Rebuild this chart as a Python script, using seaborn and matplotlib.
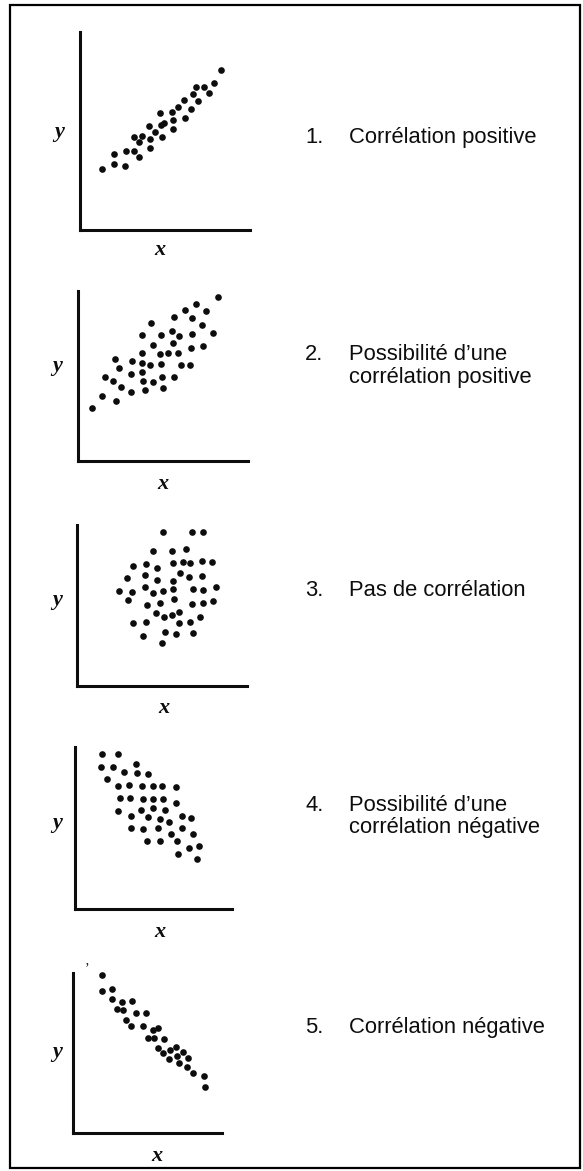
import matplotlib
matplotlib.use("Agg")
import matplotlib.pyplot as plt
from matplotlib.patches import Rectangle
import seaborn as sns
import pandas as pd

# --- point clouds for the five schematic scatter plots (arbitrary units) ---
p1_x = [22, 34, 34, 45, 46, 54, 54, 59, 59, 62, 69, 70, 70, 75, 80, 82,
        81, 84, 92, 93, 93, 98, 104, 105, 111, 113, 116, 118, 124, 129, 134, 141]
p1_y = [61, 76, 66, 64, 79, 79, 93, 73, 88, 94, 104, 91, 82, 98, 117, 93,
        105, 107, 118, 110, 101, 123, 130, 112, 121, 136, 143, 129, 143, 137, 147, 160]

p2_x = [14, 24, 27, 35, 37, 38, 41, 43, 53, 53, 54, 64, 64, 64, 64, 65, 67,
        72, 73, 75, 75, 82, 83, 83, 84, 85, 90, 94, 96, 95, 96, 100, 101, 103,
        107, 112, 113, 114, 114, 118, 124, 125, 128, 135, 140]
p2_y = [53, 65, 84, 80, 102, 60, 93, 74, 69, 87, 100, 126, 108, 98, 89, 80, 71,
        96, 138, 116, 79, 107, 126, 97, 84, 73, 108, 130, 144, 118, 84, 108, 125, 96,
        151, 96, 113, 143, 127, 157, 136, 115, 150, 128, 164]

p3_x = [86, 115, 126, 76, 95, 109, 56, 69, 80, 96, 106, 113, 125, 135, 50, 68,
        80, 96, 103, 112, 125, 42, 55, 68, 76, 86, 96, 116, 126, 139, 51, 70, 83,
        97, 115, 126, 136, 79, 87, 95, 102, 123, 56, 69, 102, 113, 66, 88, 99, 116, 85]
p3_y = [154, 154, 154, 135, 135, 137, 120, 122, 118, 123, 124, 123, 125, 124, 108, 111,
        106, 105, 113, 109, 110, 95, 94, 99, 93, 95, 97, 97, 96, 99, 86, 81, 83,
        87, 82, 83, 85, 73, 69, 71, 74, 69, 63, 64, 63, 64, 50, 54, 52, 53, 43]

p4_x = [27, 43, 26, 38, 61, 32, 49, 62, 73, 43, 54, 67, 78, 87, 101, 45, 55, 68,
        78, 88, 101, 43, 66, 78, 90, 56, 73, 85, 94, 107, 116, 56, 68, 83, 107,
        72, 85, 96, 102, 118, 114, 124, 103, 122]
p4_y = [155, 155, 142, 142, 145, 130, 137, 136, 135, 123, 124, 123, 123, 123, 122, 111, 111, 110,
        110, 110, 106, 98, 99, 101, 99, 93, 92, 90, 87, 93, 91, 81, 80, 81, 81,
        68, 68, 75, 68, 75, 61, 63, 55, 50]

p5_x = [29, 29, 39, 39, 49, 59, 44, 50, 63, 73, 53, 58, 70, 80, 85, 75, 81, 91,
        85, 90, 97, 103, 110, 96, 104, 106, 115, 114, 120, 131, 132]
p5_y = [158, 142, 144, 134, 131, 132, 124, 123, 120, 120, 113, 107, 107, 103, 105, 95, 95, 94,
        85, 80, 83, 86, 81, 74, 77, 70, 75, 66, 60, 57, 46]

captions = [
    ["Corrélation positive"],
    ["Possibilité d\u2019une", "corrélation positive"],
    ["Pas de corrélation"],
    ["Possibilité d\u2019une", "corrélation négative"],
    ["Corrélation négative"],
]
numbers = ["1.", "2.", "3.", "4.", "5."]

series = [(p1_x, p1_y), (p2_x, p2_y), (p3_x, p3_y), (p4_x, p4_y), (p5_x, p5_y)]

# --- layout (pixels on a 583 x 1171 canvas) ---
W, H = 583, 1171
# left, right, top, bottom of each axes box
boxes = [(80, 250, 32, 230), (78, 248, 291, 461), (77, 247, 525, 686),
         (75, 232, 747, 909), (73, 222, 973, 1133)]
xlab_pos = [(160, 250), (163, 484), (164, 708), (160, 932), (157, 1156)]
ylab_pos = [(59, 132), (57, 366), (57, 600), (57, 823), (57, 1052)]
cap_base = [[143], [360, 383], [596], [811, 833], [1033]]


def fx(px):
    return px / W


def fy(py):
    return 1 - py / H


sns.set_style("white")
fig = plt.figure(figsize=(W / 100, H / 100), dpi=100)
fig.patch.set_facecolor("white")

ink = "#0d0d0d"
serif = ["Liberation Serif", "DejaVu Serif"]
sans = ["Liberation Sans", "DejaVu Sans"]

for i, ((xs, ys), (l, r, t, b)) in enumerate(zip(series, boxes)):
    ax = fig.add_axes([fx(l), fy(b), (r - l) / W, (b - t) / H])
    df = pd.DataFrame({"x": xs, "y": ys})
    sns.scatterplot(data=df, x="x", y="y", ax=ax, color=ink, s=23,
                    linewidth=0, legend=False, clip_on=False)
    ax.set_xlim(0, r - l)
    ax.set_ylim(0, b - t)
    ax.set_xticks([])
    ax.set_yticks([])
    ax.set_xlabel("")
    ax.set_ylabel("")
    ax.set_facecolor("none")
    for side in ("top", "right"):
        ax.spines[side].set_visible(False)
    for side in ("left", "bottom"):
        ax.spines[side].set_linewidth(2.2)
        ax.spines[side].set_color(ink)
        ax.spines[side].set_capstyle("projecting")

    # axis letters
    xl, yl = xlab_pos[i]
    fig.text(fx(xl), fy(yl), "x", family=serif, style="italic",
             weight="bold", fontsize=16, color=ink, ha="center", va="center")
    xl, yl = ylab_pos[i]
    fig.text(fx(xl), fy(yl), "y", family=serif, style="italic",
             weight="bold", fontsize=16, color=ink, ha="center", va="center")

    # caption
    fig.text(fx(305), fy(cap_base[i][0]), numbers[i], family=sans,
             fontsize=15.8, color=ink, ha="left", va="baseline")
    for line, base in zip(captions[i], cap_base[i]):
        fig.text(fx(349), fy(base), line, family=sans, fontsize=15.8,
                 color=ink, ha="left", va="baseline")

# small stray tick near the last plot
fig.text(fx(87), fy(969), "\u2019", family=serif, fontsize=10, color=ink,
         ha="center", va="center")

# frame around the whole figure
fig.add_artist(Rectangle((fx(10), fy(1168)), (580 - 10) / W, (1168 - 5) / H,
                         transform=fig.transFigure, fill=False,
                         edgecolor="black", linewidth=1.6))

fig.savefig("out.png", dpi=100, facecolor="white")
